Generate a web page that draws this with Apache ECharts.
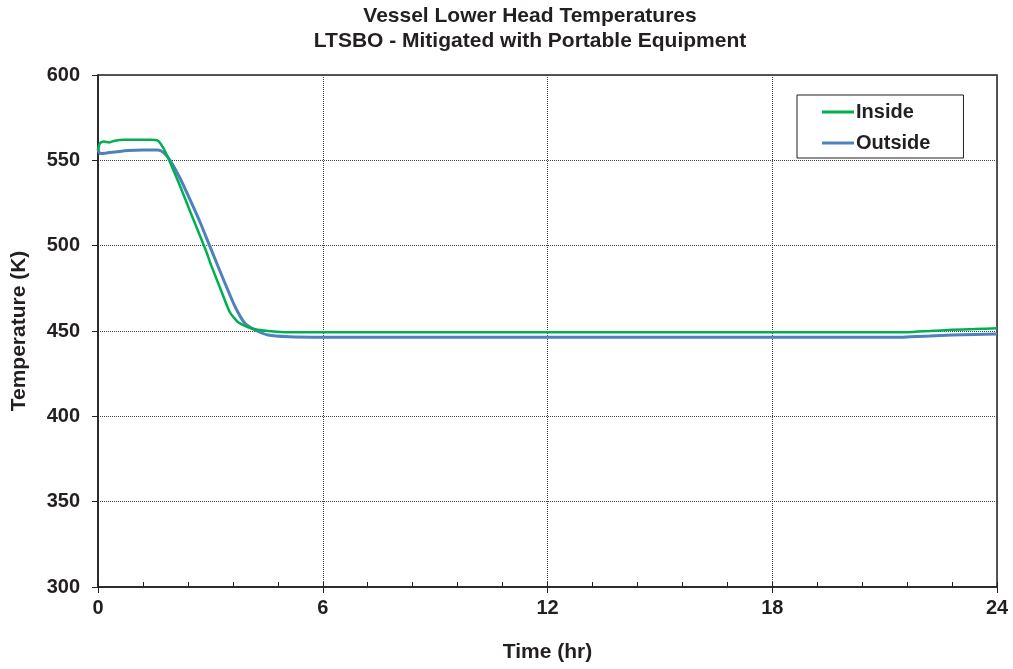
<!DOCTYPE html>
<html>
<head>
<meta charset="utf-8">
<script src="https://cdn.jsdelivr.net/npm/echarts@6/dist/echarts.min.js"></script>
<style>
html,body{margin:0;padding:0;background:#fff;}
#chart{width:1013px;height:669px;}
</style>
</head>
<body>
<div id="chart"></div>
<script>
var titleLines = ['Vessel Lower Head Temperatures', 'LTSBO - Mitigated with Portable Equipment'];
var xAxisName = 'Time (hr)';
var yAxisName = 'Temperature (K)';
var seriesNames = ['Inside', 'Outside'];

var insideTime = [0, 0.05, 0.15, 0.3, 0.45, 0.7, 1.0, 1.4, 1.6, 1.75, 1.92, 2.19, 2.46, 2.72, 2.9, 3.03, 3.3, 3.52, 3.75, 4.1, 4.54, 5.0, 6, 12, 18, 21.6, 22.2, 22.8, 23.4, 24];
var insideTemp = [556, 560, 561, 560.5, 561.5, 562, 562, 562, 561.5, 557, 549, 535, 520, 506, 496, 488, 473, 461, 455, 451.5, 450, 449.3, 449.2, 449.2, 449.2, 449.3, 450.0, 450.7, 451.1, 451.6];

var outsideTime = [0, 0.05, 0.2, 0.5, 0.8, 1.2, 1.6, 1.75, 1.92, 2.19, 2.46, 2.72, 2.99, 3.39, 3.66, 3.92, 4.19, 4.54, 5.1, 6, 12, 18, 21.5, 22.2, 22.8, 23.4, 24];
var outsideTemp = [557, 554, 554.2, 555, 555.7, 556, 556, 554.5, 550.2, 539.5, 526.8, 514, 499.4, 478, 464.2, 454.5, 450.6, 447.7, 446.7, 446.4, 446.3, 446.3, 446.4, 447.0, 447.6, 448.0, 448.3];

function pairs(t, v) { return t.map(function (x, i) { return [x, v[i]]; }); }

var FONT = 'Liberation Sans, Arial, sans-serif';
var chart = echarts.init(document.getElementById('chart'));
chart.setOption({
  backgroundColor: '#fff',
  animation: false,
  textStyle: { fontFamily: FONT },
  graphic: [
    { type: 'text', x: 530, y: 6, style: { text: titleLines[0], font: 'bold 21px ' + FONT, fill: '#231f20', align: 'center', verticalAlign: 'top' } },
    { type: 'text', x: 530, y: 31, style: { text: titleLines[1], font: 'bold 21px ' + FONT, fill: '#231f20', align: 'center', verticalAlign: 'top' } }
  ],
  grid: { left: 98, right: 16, top: 75, bottom: 82, show: true, borderColor: '#231f20', borderWidth: 1.5, backgroundColor: 'transparent' },
  legend: {
    orient: 'vertical', left: 797, top: 95,
    data: seriesNames,
    icon: 'rect',
    backgroundColor: '#fff',
    borderColor: '#231f20', borderWidth: 1,
    padding: [7, 33, 5, 25],
    itemGap: 11, itemWidth: 32, itemHeight: 3,
    textStyle: { fontSize: 20, fontWeight: 'bold', color: '#231f20', fontFamily: FONT, padding: [0, 0, 0, -3] }
  },
  xAxis: [{
    type: 'value', min: 0, max: 24, interval: 6,
    name: xAxisName, nameLocation: 'middle', nameGap: 55,
    nameTextStyle: { fontSize: 21, fontWeight: 'bold', color: '#231f20', fontFamily: FONT },
    axisLine: { show: true, lineStyle: { color: '#231f20', width: 1.5 } },
    axisTick: { show: true, length: 6, lineStyle: { color: '#231f20' } },
    axisLabel: { margin: 11, fontSize: 20, fontWeight: 'bold', color: '#231f20', fontFamily: FONT },
    splitLine: { show: true, lineStyle: { color: '#444', type: [1, 1], width: 1 } }
  }, {
    type: 'value', min: 0, max: 24, interval: 1.2, position: 'bottom',
    axisLine: { show: false },
    axisTick: { show: true, inside: true, length: 5, lineStyle: { color: '#231f20' } },
    axisLabel: { show: false },
    splitLine: { show: false }
  }],
  yAxis: {
    type: 'value', min: 300, max: 600, interval: 50,
    name: yAxisName, nameLocation: 'middle', nameGap: 68,
    nameTextStyle: { fontSize: 21, fontWeight: 'bold', color: '#231f20', fontFamily: FONT },
    axisLine: { show: true, lineStyle: { color: '#231f20', width: 1.5 } },
    axisTick: { show: true, length: 6, lineStyle: { color: '#231f20' } },
    axisLabel: { margin: 18, fontSize: 20, fontWeight: 'bold', color: '#231f20', fontFamily: FONT },
    splitLine: { show: true, lineStyle: { color: '#444', type: [1, 1], width: 1 } }
  },
  series: [
    { name: seriesNames[0], type: 'line', xAxisIndex: 0, data: pairs(insideTime, insideTemp), symbol: 'none', smooth: 0.2,
      lineStyle: { color: '#00b050', width: 2.5 }, itemStyle: { color: '#00b050' }, z: 3 },
    { name: seriesNames[1], type: 'line', xAxisIndex: 0, data: pairs(outsideTime, outsideTemp), symbol: 'none', smooth: 0.2,
      lineStyle: { color: '#4f81bd', width: 3 }, itemStyle: { color: '#4f81bd' }, z: 2 }
  ]
});
</script>
</body>
</html>
